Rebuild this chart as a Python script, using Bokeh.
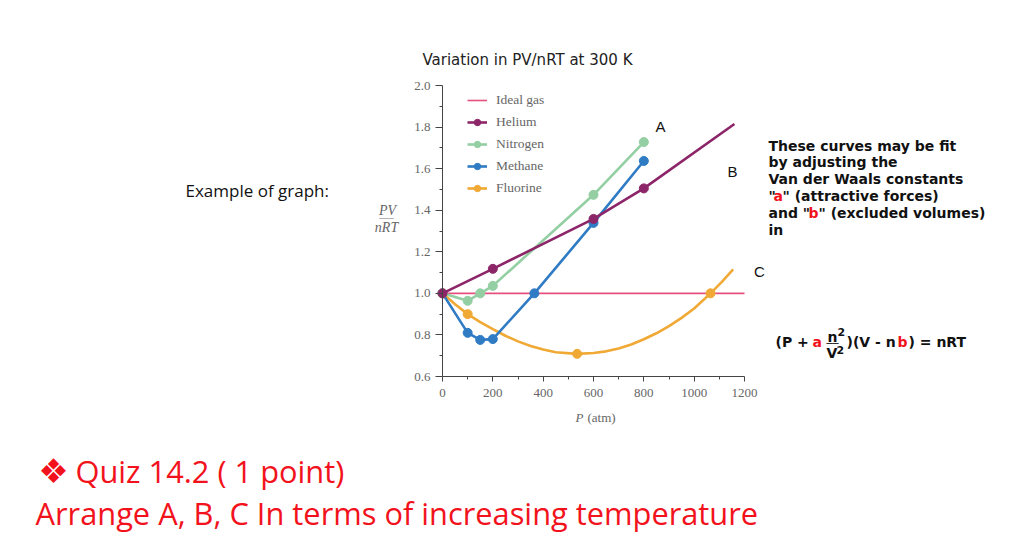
from bokeh.plotting import figure
from bokeh.models import (Range1d, FixedTicker, PrintfTickFormatter, Label,
                          Legend, LegendItem)
from bokeh.embed import file_html
from bokeh.resources import INLINE

# ---------------- data ----------------
ideal_p = [0, 1200]
ideal_v = [1.0, 1.0]

helium_p = [0, 200, 600, 800]
helium_v = [1.0, 1.118, 1.358, 1.505]
helium_line_p = [0, 200, 600, 800, 1160]
helium_line_v = [1.0, 1.118, 1.358, 1.505, 1.815]

nitrogen_p = [0, 100, 150, 200, 600, 800]
nitrogen_v = [1.0, 0.964, 1.0, 1.036, 1.474, 1.728]

methane_p = [0, 100, 150, 200, 365, 600, 800]
methane_v = [1.0, 0.81, 0.776, 0.78, 1.0, 1.339, 1.637]

fluorine_p = [0, 100, 535, 1065]
fluorine_v = [1.0, 0.90, 0.709, 1.0]
fluorine_line_p = [0, 50, 100, 150, 200, 250, 300, 350, 400, 450, 535, 600, 650,
                   700, 750, 800, 850, 900, 950, 1000, 1065, 1110, 1155]
fluorine_line_v = [1.0, 0.948, 0.90, 0.862, 0.828, 0.796, 0.769, 0.747, 0.730,
                   0.717, 0.709, 0.713, 0.721, 0.735, 0.754, 0.779, 0.808,
                   0.842, 0.882, 0.927, 1.0, 1.055, 1.115]

y_ticks = [0.6, 0.8, 1.0, 1.2, 1.4, 1.6, 1.8, 2.0]
y_minor = [0.7, 0.9, 1.1, 1.3, 1.5, 1.7, 1.9]
x_ticks = [0, 200, 400, 600, 800, 1000, 1200]
x_minor = [100, 300, 500, 700, 900, 1100]

series_names = ["Ideal gas", "Helium", "Nitrogen", "Methane", "Fluorine"]
colors = {"Ideal gas": "#e6507f", "Helium": "#8c2668", "Nitrogen": "#94cfa3",
          "Methane": "#2f7bc4", "Fluorine": "#f0a935"}

# ---------------- layout geometry (page pixels) ----------------
W, H = 1020, 540
AX_L, AX_R, AX_T, AX_B = 442, 744, 85, 376     # where 0/1200 and 2.0/0.6 sit


def X(sx):
    return (sx - AX_L) / (AX_R - AX_L) * 1200.0


def Y(sy):
    return 2.0 - (sy - AX_T) / (AX_B - AX_T) * 1.4


p = figure(width=W, height=H, output_backend="svg", toolbar_location=None,
           x_range=Range1d(X(0), X(W)), y_range=Range1d(Y(H), Y(0)),
           min_border=0)
p.outline_line_color = None
p.xgrid.visible = False
p.ygrid.visible = False
p.background_fill_color = "white"
p.border_fill_color = "white"

axis_col = "#444444"
tick_font = "Liberation Serif"
for ax in (p.xaxis[0], p.yaxis[0]):
    ax.axis_line_color = axis_col
    ax.major_tick_line_color = axis_col
    ax.minor_tick_line_color = axis_col
    ax.major_tick_in = 0
    ax.minor_tick_in = 0
    ax.minor_tick_out = 3
    ax.major_label_text_font = tick_font
    ax.major_label_text_font_size = "13px"
    ax.major_label_text_color = "#666666"

p.yaxis.fixed_location = 0
p.yaxis.bounds = (0.6, 2.0)
p.yaxis.ticker = FixedTicker(ticks=y_ticks, minor_ticks=y_minor)
p.yaxis.formatter = PrintfTickFormatter(format="%.1f")
p.yaxis.major_tick_out = 7
p.yaxis.major_label_standoff = 5

p.xaxis.fixed_location = 0.6
p.xaxis.bounds = (0, 1200)
p.xaxis.ticker = FixedTicker(ticks=x_ticks, minor_ticks=x_minor)
p.xaxis.major_tick_out = 5
p.xaxis.major_label_standoff = 7

# ---------------- glyphs ----------------
LW = 2.6
MS = 9
r_ideal = p.line(ideal_p, ideal_v, color=colors["Ideal gas"], line_width=1.6)
r_fl = p.line(fluorine_line_p, fluorine_line_v, color=colors["Fluorine"], line_width=LW)
s_fl = p.scatter(fluorine_p, fluorine_v, color=colors["Fluorine"], size=MS)
r_me = p.line(methane_p, methane_v, color=colors["Methane"], line_width=LW)
s_me = p.scatter(methane_p, methane_v, color=colors["Methane"], size=MS)
r_ni = p.line(nitrogen_p, nitrogen_v, color=colors["Nitrogen"], line_width=LW)
s_ni = p.scatter(nitrogen_p, nitrogen_v, color=colors["Nitrogen"], size=MS)
r_he = p.line(helium_line_p, helium_line_v, color=colors["Helium"], line_width=LW)
s_he = p.scatter(helium_p, helium_v, color=colors["Helium"], size=MS)

legend = Legend(items=[
    LegendItem(label=series_names[0], renderers=[r_ideal]),
    LegendItem(label=series_names[1], renderers=[r_he, s_he]),
    LegendItem(label=series_names[2], renderers=[r_ni, s_ni]),
    LegendItem(label=series_names[3], renderers=[r_me, s_me]),
    LegendItem(label=series_names[4], renderers=[r_fl, s_fl]),
], location=(467, H - 196))
legend.background_fill_alpha = 0
legend.border_line_color = None
legend.padding = 0
legend.margin = 0
legend.spacing = 6
legend.glyph_width = 20
legend.glyph_height = 16
legend.label_height = 16
legend.label_standoff = 9
legend.label_text_font = tick_font
legend.label_text_font_size = "13.5px"
legend.label_text_color = "#666666"
p.add_layout(legend, "center")


# ---------------- text annotations (page positions) ----------------
def lab(text, sx, sy, size, color="#111111", font="DejaVu Sans",
        align="left", style="normal", baseline="middle"):
    p.add_layout(Label(x=X(sx), y=Y(sy), text=text, text_font_size=size,
                       text_color=color, text_font=font, text_align=align,
                       text_baseline=baseline, text_font_style=style))


RED = "#f2121c"
GRAY = "#666666"
# title
lab("Variation in PV/nRT at 300 K", 422, 59, "15px", color="#222222")
# axis labels
lab("PV", 387, 210, "14px", color=GRAY, font=tick_font, align="center", style="italic")
lab("\u2500\u2500\u2500", 386, 218, "8px", color="#999999", align="center")
lab("nRT", 386, 227, "14px", color=GRAY, font=tick_font, align="center", style="italic")
lab("P", 575, 417, "13px", color=GRAY, font=tick_font, style="italic")
lab("(atm)", 587, 417, "13px", color=GRAY, font=tick_font)
# side text
lab("Example of graph:", 185, 190, "17px", color="#111111", font="Open Sans")
# curve tags
lab("A", 660, 126, "15px", font="Liberation Sans", align="center")
lab("B", 732, 171, "15px", font="Liberation Sans", align="center")
lab("C", 759, 271, "15px", font="Liberation Sans", align="center")

# right explanatory text
FS = "14px"
tx = 768
lab("These curves may be fit", tx, 145, FS, style="bold")
lab("by adjusting the", tx, 161, FS, style="bold")
lab("Van der Waals constants", tx, 178, FS, style="bold")
lab('"', tx, 195, FS, style="bold")
lab("a", 773, 195, FS, color=RED, style="bold")
lab('" (attractive forces)', 782, 195, FS, style="bold")
lab('and "', tx, 212, FS, style="bold")
lab("b", 808, 212, FS, color=RED, style="bold")
lab('" (excluded volumes)', 818, 212, FS, style="bold")
lab("in", tx, 229, FS, style="bold")

# Van der Waals equation
lab("(P +", 775, 341, FS, style="bold")
lab("a", 812, 341, FS, color=RED, style="bold")
lab("n", 827, 336, FS, style="bold")
lab("2", 837, 331, "11px", style="bold")
lab("\u2500\u2500", 826, 343, "10px", style="bold")
lab("V", 826, 352, FS, style="bold")
lab("2", 836, 349, "11px", style="bold")
lab(")(V - n", 846, 341, FS, style="bold")
lab("b", 897, 341, FS, color=RED, style="bold")
lab(") = nRT", 908, 341, FS, style="bold")

# quiz text
lab("\u2756", 53, 470, "34px", color=RED, align="center")
lab("Quiz 14.2 ( 1 point)", 75, 470, "30.8px", color=RED, font="Open Sans")
lab("Arrange A, B, C In terms of increasing temperature", 35, 512, "30.8px",
    color=RED, font="Open Sans")

open("out.html", "w").write(file_html(p, INLINE))
